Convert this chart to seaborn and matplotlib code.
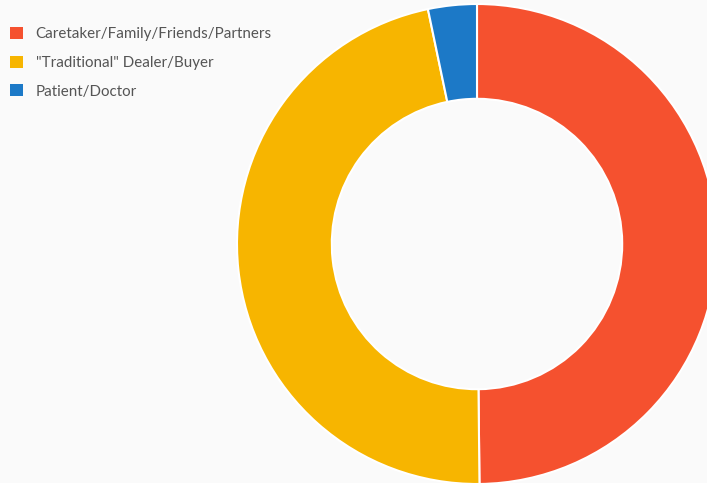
import matplotlib
matplotlib.use("Agg")
import matplotlib.pyplot as plt
import seaborn as sns

# data
labels = ["Caretaker/Family/Friends/Partners", "\"Traditional\" Dealer/Buyer", "Patient/Doctor"]
counts = [152, 143, 10]
colors = ["#F5512F", "#F7B500", "#1C79C7"]

sns.set_theme(style="white")
plt.rcParams['font.family'] = ['Lato', 'DejaVu Sans']

W, H = 707, 483
fig = plt.figure(figsize=(W / 100, H / 100), dpi=100)
fig.patch.set_facecolor("#FAFAFA")

# donut centre at (477, 244) px, outer radius 240 px
cx, cy, r = 477, 244, 240
ax = fig.add_axes([(cx - r) / W, (H - cy - r) / H, 2 * r / W, 2 * r / H])
ax.set_facecolor("#FAFAFA")
wedges, _ = ax.pie(counts, colors=sns.color_palette(colors), startangle=90, counterclock=False,
                   radius=1.0, wedgeprops=dict(width=0.395, edgecolor="white", linewidth=1.5))
ax.set_xlim(-1, 1)
ax.set_ylim(-1, 1)
ax.set_aspect("equal")
ax.axis("off")

leg = fig.legend(wedges, labels, loc="upper left", bbox_to_anchor=(10 / W, 1 - 27 / H),
                 frameon=False, fontsize=10.9, borderaxespad=0, borderpad=0,
                 handlelength=0.85, handleheight=0.85, handletextpad=0.85, labelspacing=0.95)
for t in leg.get_texts():
    t.set_color("#555555")
for h in leg.legend_handles:
    h.set_edgecolor("none")

fig.savefig("out.png", dpi=100, facecolor=fig.get_facecolor())
